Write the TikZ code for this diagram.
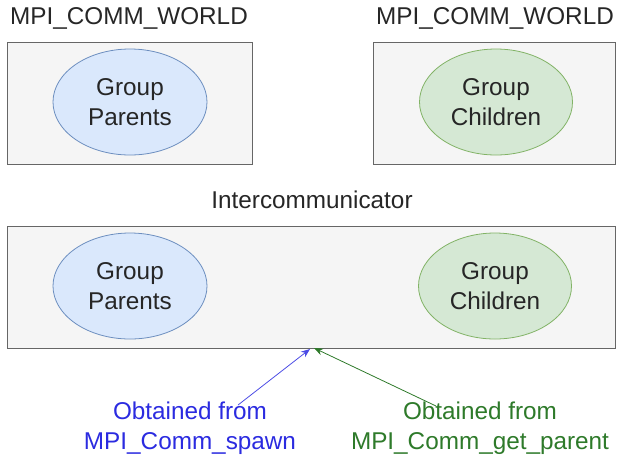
\documentclass[tikz,border=0pt]{standalone}
\usepackage{fontspec}
\setmainfont{Liberation Sans}
\usetikzlibrary{shapes.geometric,arrows.meta}
\definecolor{boxfill}{HTML}{F5F5F5}
\definecolor{boxline}{HTML}{666666}
\definecolor{bluefill}{HTML}{DAE8FC}
\definecolor{blueline}{HTML}{6C8EBF}
\definecolor{greenfill}{HTML}{D5E8D4}
\definecolor{greenline}{HTML}{82B366}
\definecolor{spawnblue}{HTML}{2B2BE0}
\definecolor{parentgreen}{HTML}{2E7A2A}
\begin{document}
\begin{tikzpicture}[x=1pt,y=-1pt,
  every node/.style={font=\fontsize{24.3}{29.5}\selectfont, text=black!85},
  commbox/.style={draw=boxline, fill=boxfill, line width=1pt},
  groupa/.style={ellipse, draw=blueline, fill=bluefill, line width=0.8pt,
    minimum width=154pt, minimum height=106pt, inner sep=0pt, align=center},
  groupb/.style={ellipse, draw=greenline, fill=greenfill, line width=0.8pt,
    minimum width=153pt, minimum height=106pt, inner sep=0pt, align=center},
  caption/.style={align=center, inner sep=0pt},
  link/.style={line width=0.8pt, -{Stealth[length=9pt,width=7pt]}}
]
\useasboundingbox (0,0) rectangle (617,459);

% two separate worlds
\draw[commbox] (7,42) rectangle (252,164);
\draw[commbox] (373,42) rectangle (615.5,164);
\node at (129,18) {MPI\_COMM\_WORLD};
\node at (495,18) {MPI\_COMM\_WORLD};
\node[groupa] (wp) at (130,102) {Group\\Parents};
\node[groupb] (wc) at (496,102) {Group\\Children};

% intercommunicator joining both groups
\node at (312,200) {Intercommunicator};
\draw[commbox] (7,226) rectangle (615.5,348);
\node[groupa] (ip) at (130,286) {Group\\Parents};
\node[groupb] (ic) at (495,286) {Group\\Children};

% where each side gets its handle
\coordinate (tip1) at (310,349);
\coordinate (tip2) at (314,348);
\node[caption, text=spawnblue] (spawn) at (190,428) {Obtained from\\MPI\_Comm\_spawn};
\node[caption, text=parentgreen] (getp) at (480,428) {Obtained from\\MPI\_Comm\_get\_parent};
\coordinate (s1) at (238,405);
\coordinate (s2) at (436,406);
\draw[link, spawnblue!85] (s1) -- (tip1);
\draw[link, parentgreen] (s2) -- (tip2);
\end{tikzpicture}
\end{document}
